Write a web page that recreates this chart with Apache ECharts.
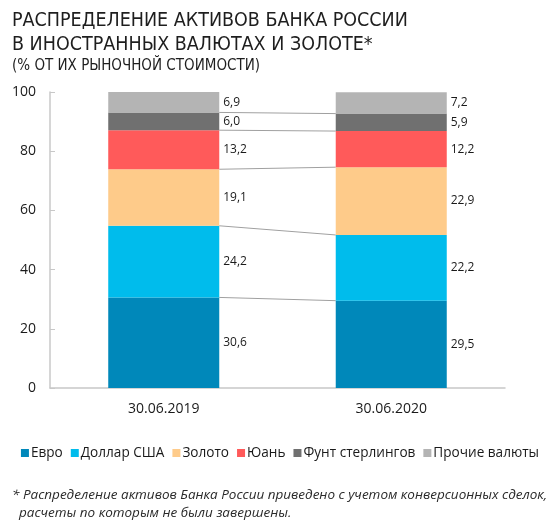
<!DOCTYPE html>
<html>
<head>
<meta charset="utf-8">
<script src="https://cdn.jsdelivr.net/npm/echarts@6/dist/echarts.min.js"></script>
<style>
  html, body { margin: 0; padding: 0; background: #fff; }
  #chart { width: 560px; height: 532px; }
</style>
</head>
<body>
<div id="chart"></div>
<script>
// dates on the x axis
const dates = ['30.06.2019', '30.06.2020']

// shares of each asset, % of market value
const euro = [30.6, 29.5]
const usd = [24.2, 22.2]
const gold = [19.1, 22.9]
const yuan = [13.2, 12.2]
const pound = [6.0, 5.9]
const other = [6.9, 7.2]

const seriesNames = ['Евро', 'Доллар США', 'Золото', 'Юань', 'Фунт стерлингов', 'Прочие валюты']
const seriesValues = [euro, usd, gold, yuan, pound, other]
const colors = ['#0088ba', '#00bcec', '#fecb8a', '#ff5a5a', '#707070', '#b4b4b4']

const yTicks = [0, 20, 40, 60, 80, 100]

const BAR_RATIO = 0.488
const numFont = '"Open Sans", "Noto Sans", sans-serif'
const narrowFont = '"Liberation Sans Narrow", "DejaVu Sans Condensed", sans-serif'

// running totals: the tops of each segment, used for the connector lines
const tops = seriesValues.slice(0, -1).map((_, i) =>
  dates.map((_, j) => seriesValues.slice(0, i + 1).reduce((s, arr) => s + arr[j], 0))
)

const chart = echarts.init(document.getElementById('chart'), null, { renderer: 'canvas' })

const barSeries = seriesNames.map((name, i) => ({
  name,
  type: 'bar',
  stack: 'all',
  barWidth: (BAR_RATIO * 100) + '%',
  data: seriesValues[i],
  itemStyle: { color: colors[i] },
  label: {
    show: true,
    position: 'right',
    distance: 4,
    color: '#1a1a1a',
    fontSize: 12,
    fontFamily: numFont,
    formatter: p => p.value.toFixed(1).replace('.', ',')
  }
}))

const connectors = {
  type: 'custom',
  silent: true,
  z: 1,
  data: tops,
  renderItem: (params, api) => {
    const half = api.size([1, 0])[0] * BAR_RATIO / 2
    const p1 = api.coord([0, api.value(0)])
    const p2 = api.coord([1, api.value(1)])
    return {
      type: 'line',
      shape: { x1: p1[0] + half, y1: p1[1], x2: p2[0] - half, y2: p2[1] },
      style: { stroke: '#a0a0a0', lineWidth: 1 }
    }
  },
  encode: { x: -1, y: -1 }
}

chart.setOption({
  animation: false,
  title: [
    {
      text: 'РАСПРЕДЕЛЕНИЕ АКТИВОВ БАНКА РОССИИ\nВ ИНОСТРАННЫХ ВАЛЮТАХ И ЗОЛОТЕ*',
      left: 7,
      top: 4,
      textStyle: {
        fontFamily: narrowFont,
        fontWeight: 'normal',
        fontSize: 19.5,
        lineHeight: 24,
        color: '#1e1e1e'
      }
    },
    {
      text: '(% ОТ ИХ РЫНОЧНОЙ СТОИМОСТИ)',
      left: 7,
      top: 54,
      textStyle: {
        fontFamily: narrowFont,
        fontWeight: 'normal',
        fontSize: 15,
        color: '#1e1e1e'
      }
    },
    {
      text: '* Распределение активов Банка России приведено с учетом конверсионных сделок,\n  расчеты по которым не были завершены.',
      left: 7,
      top: 481,
      textStyle: {
        fontFamily: '"Open Sans", sans-serif',
        fontStyle: 'italic',
        fontWeight: 'normal',
        fontSize: 13.5,
        lineHeight: 18,
        color: '#2a2a2a'
      }
    }
  ],
  legend: {
    data: seriesNames,
    left: 'center',
    top: 441,
    itemWidth: 8,
    itemHeight: 8,
    itemGap: 8,
    icon: 'rect',
    textStyle: { fontFamily: numFont, fontSize: 13.6, color: '#1a1a1a', padding: [0, 0, 0, -3] }
  },
  grid: { left: 50, right: 55, top: 92, bottom: 144, containLabel: false },
  xAxis: {
    type: 'category',
    data: dates,
    axisLine: { lineStyle: { color: '#c8c8c8', width: 1.5 } },
    axisTick: { show: false },
    axisLabel: { margin: 14, fontSize: 14, fontFamily: numFont, color: '#1a1a1a' }
  },
  yAxis: {
    type: 'value',
    min: yTicks[0],
    max: yTicks[yTicks.length - 1],
    interval: yTicks[1] - yTicks[0],
    axisLine: { show: true, lineStyle: { color: '#c8c8c8', width: 1.5 } },
    axisTick: { show: true, inside: true, length: 5, lineStyle: { color: '#c8c8c8' } },
    splitLine: { show: false },
    axisLabel: { margin: 14, fontSize: 14, fontFamily: numFont, color: '#1a1a1a' }
  },
  series: [...barSeries, connectors]
})
</script>
</body>
</html>
